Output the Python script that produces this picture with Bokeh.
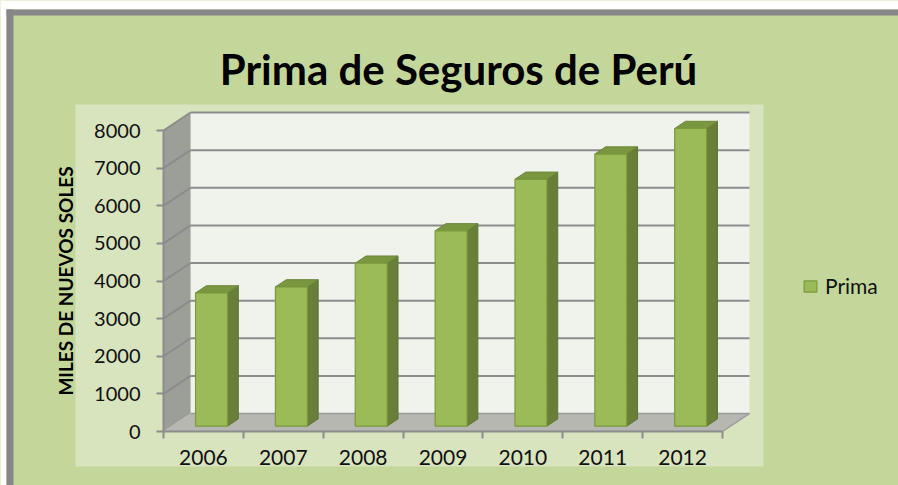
from bokeh.plotting import figure
from bokeh.models import Range1d, LinearAxis, FixedTicker, Legend, LegendItem, NumeralTickFormatter
from bokeh.embed import file_html
from bokeh.resources import INLINE
from bokeh.core.properties import value

# ---- data ----
years = ["2006", "2007", "2008", "2009", "2010", "2011", "2012"]
prima = [3540, 3700, 4330, 5190, 6560, 7230, 7910]
y_ticks = [0, 1000, 2000, 3000, 4000, 5000, 6000, 7000, 8000]
title_text = "Prima de Seguros de Perú"
y_label = "MILES DE NUEVOS SOLES"
series_name = "Prima"

# ---- layout (reference pixels) ----
W, H = 898, 485
AX_X0, AX_X1 = 163, 722      # front x-axis ends
AX_Y0, AX_YT = 431, 130      # front y of 0 and of top tick
n = len(years)
ymax = y_ticks[-1]
SX = (AX_X1 - AX_X0) / n
SY = (AX_Y0 - AX_YT) / ymax


def X(px):
    return (px - AX_X0) / SX


def Y(py):
    return (AX_Y0 - py) / SY


DX = 27 / SX
DY = 18 / SY

FONT = "Lato"
GREEN = "#C4D79B"
LIGHT = "#D8E4BD"
GRID = "#8C8C8C"
FRAME = "#878787"

p = figure(width=W, height=H,
           x_range=Range1d(X(0), X(W)), y_range=Range1d(Y(H), Y(0)),
           x_axis_type=None, y_axis_type=None,
           toolbar_location=None, output_backend="svg", min_border=0,
           background_fill_color=GREEN, border_fill_color=GREEN,
           outline_line_color=None)

# white page edge, then grey frame border (top & left)
p.quad(left=[X(0)], right=[X(W)], top=[Y(0)], bottom=[Y(9)],
       fill_color="white", line_color=None)
p.quad(left=[X(0)], right=[X(6)], top=[Y(0)], bottom=[Y(H)],
       fill_color="white", line_color=None)
p.quad(left=[X(6)], right=[X(W)], top=[Y(9)], bottom=[Y(15)],
       fill_color=FRAME, line_color=None)
p.quad(left=[X(6)], right=[X(13)], top=[Y(9)], bottom=[Y(H)],
       fill_color=FRAME, line_color=None)

# plot area
p.quad(left=[X(75)], right=[X(763)], top=[Y(104)], bottom=[Y(466)],
       fill_color=LIGHT, line_color=None)

# back wall
p.patch([DX, n + DX, n + DX, DX], [DY, DY, ymax + DY, ymax + DY],
        fill_color="#F0F2EC", line_color=None)
# side wall
p.patch([0, DX, DX, 0], [0, DY, ymax + DY, ymax],
        fill_color="#9C9E98", line_color=None)
# floor
p.patch([0, n, n + DX, DX], [0, 0, DY, DY],
        fill_color="#B5B7B0", line_color=None)
p.multi_line([[n, n + DX], [DX, n + DX]], [[0, DY], [DY, DY]],
             line_color="#9A9A9A", line_width=1.5)

# gridlines on back and side walls
gx, gy = [], []
for t in y_ticks[1:]:
    gx.append([DX, n + DX]); gy.append([t + DY, t + DY])
    gx.append([0, DX]); gy.append([t, t + DY])
p.multi_line(gx, gy, line_color=GRID, line_width=2)

# bars (3D)
f0, f1 = 0.3, 0.7
hw = 0.2
side_x, side_y, top_x, top_y, fr_x, fr_y = [], [], [], [], [], []
for i, v in enumerate(prima):
    a = i + 0.5 - hw
    b = i + 0.5 + hw
    ox0, oy0 = f0 * DX, f0 * DY
    ox1, oy1 = f1 * DX, f1 * DY
    fr_x.append([a + ox0, b + ox0, b + ox0, a + ox0])
    fr_y.append([oy0, oy0, v + oy0, v + oy0])
    side_x.append([b + ox0, b + ox1, b + ox1, b + ox0])
    side_y.append([oy0, oy1, v + oy1, v + oy0])
    top_x.append([a + ox0, b + ox0, b + ox1, a + ox1])
    top_y.append([v + oy0, v + oy0, v + oy1, v + oy1])

p.patches(side_x, side_y, fill_color="#677F38", line_color="#5E7432", line_width=1)
p.patches(top_x, top_y, fill_color="#7A963F", line_color="#6B8538", line_width=1)
front = p.patches(fr_x, fr_y, fill_color="#9BBB59", line_color="#7A9A3C", line_width=1.2)

# axes
yax = LinearAxis(fixed_location=0, bounds=(0, ymax), ticker=FixedTicker(ticks=y_ticks),
                 formatter=NumeralTickFormatter(format="0"),
                 axis_line_color=GRID, axis_line_width=2,
                 major_tick_line_color=GRID, major_tick_line_width=2,
                 major_tick_in=0, major_tick_out=7, minor_tick_line_color=None,
                 major_label_text_font=FONT, major_label_text_font_size="20px",
                 major_label_text_color="#111111", major_label_standoff=16,
                 axis_label=y_label, axis_label_text_font=FONT,
                 axis_label_text_font_style="bold", axis_label_text_font_size="19px",
                 axis_label_text_color="#000000", axis_label_standoff=14)
p.add_layout(yax, "left")

xax = LinearAxis(fixed_location=0, bounds=(0, n), ticker=FixedTicker(ticks=list(range(n + 1))),
                 major_label_overrides={i: "" for i in range(n + 1)},
                 axis_line_color=GRID, axis_line_width=2,
                 major_tick_line_color=GRID, major_tick_line_width=2,
                 major_tick_in=0, major_tick_out=7, minor_tick_line_color=None)
p.add_layout(xax, "below")

centers = [i + 0.5 for i in range(n)]
xlab = LinearAxis(fixed_location=0, ticker=FixedTicker(ticks=centers),
                  major_label_overrides={c: yr for c, yr in zip(centers, years)},
                  axis_line_color=None, major_tick_line_color=None, minor_tick_line_color=None,
                  major_tick_in=0, major_tick_out=0,
                  major_label_text_font=FONT, major_label_text_font_size="21px",
                  major_label_text_color="#111111", major_label_standoff=18)
p.add_layout(xlab, "below")

# title
p.text(x=[X(458)], y=[Y(68)], text=[title_text], text_font=value(FONT),
       text_font_style="bold", text_font_size="42px", text_align="center",
       text_baseline="alphabetic", text_color="#000000")

# legend
legend = Legend(items=[LegendItem(label=series_name, renderers=[front])],
                location=(802, 187), padding=0, margin=0,
                glyph_width=16, glyph_height=14, label_standoff=7,
                label_text_font=FONT, label_text_font_size="21px",
                label_text_color="#111111",
                background_fill_alpha=0, border_line_color=None)
p.add_layout(legend)

open("out.html", "w").write(file_html(p, INLINE))
